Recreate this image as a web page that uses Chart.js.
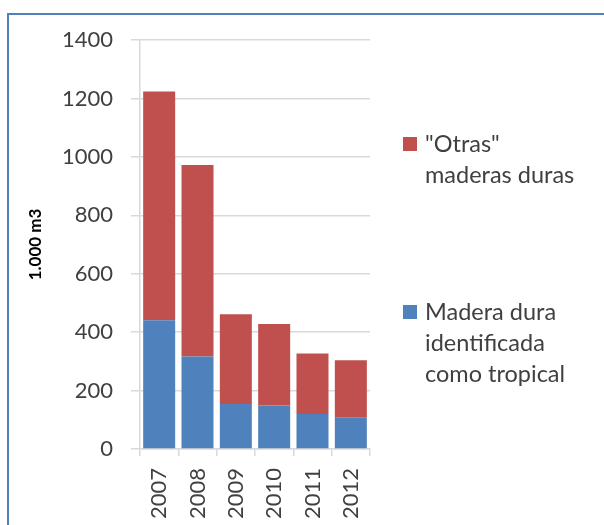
<!DOCTYPE html>
<html>
<head>
<meta charset="utf-8">
<script src="https://cdn.jsdelivr.net/npm/chart.js@4"></script>
<style>
  html, body { margin: 0; padding: 0; background: #ffffff; overflow: hidden; }
  #frame { position: absolute; left: 7px; top: 13px; width: 700px; height: 600px; border: 2px solid #4f81bd; box-sizing: border-box; }
  #c { position: absolute; left: 0; top: 0; }
</style>
</head>
<body>
<div id="frame"></div>
<canvas id="c" width="604" height="525"></canvas>
<script>
const categories = ['2007', '2008', '2009', '2010', '2011', '2012'];
const tropicalValues = [441, 317, 154, 149, 120, 109];
const otherValues = [783, 655, 307, 279, 207, 195];
const tropicalLabel = ['Madera dura', 'identificada', 'como tropical'];
const otherLabel = ['"Otras"', 'maderas duras'];
const yAxisTitle = '1.000 m3';
const yMin = 0, yMax = 1400, yStep = 200;

const FONT = 'Lato, "Open Sans", sans-serif';
const TEXT = '#404040';
const GRID = '#d9d9d9';

const sideLegend = {
  id: 'sideLegend',
  afterDraw(chart) {
    const ctx = chart.ctx;
    const order = [1, 0];
    const tops = [137, 305];
    ctx.save();
    ctx.font = '23.5px ' + FONT;
    ctx.textBaseline = 'middle';
    ctx.textAlign = 'left';
    order.forEach((di, k) => {
      const ds = chart.data.datasets[di];
      const y0 = tops[k];
      ctx.fillStyle = ds.backgroundColor;
      ctx.fillRect(403, y0, 14, 14);
      ctx.fillStyle = TEXT;
      ds.label.forEach((line, i) => {
        ctx.fillText(line, 425, y0 + 7 + i * 31);
      });
    });
    ctx.restore();
  }
};

new Chart(document.getElementById('c'), {
  type: 'bar',
  data: {
    labels: categories,
    datasets: [
      { label: tropicalLabel, data: tropicalValues, backgroundColor: '#4f81bd', barPercentage: 0.835, categoryPercentage: 1 },
      { label: otherLabel, data: otherValues, backgroundColor: '#c0504d', barPercentage: 0.835, categoryPercentage: 1 }
    ]
  },
  options: {
    responsive: false,
    animation: false,
    devicePixelRatio: 1,
    layout: { padding: { left: 0, right: 234, top: 40, bottom: 0 } },
    plugins: { legend: { display: false }, tooltip: { enabled: false } },
    scales: {
      x: {
        stacked: true,
        grid: { display: true, drawOnChartArea: false, tickLength: 7, color: GRID, lineWidth: 1.5 },
        border: { color: GRID, width: 1.5 },
        ticks: { minRotation: 90, maxRotation: 90, padding: 12, color: TEXT, font: { family: FONT, size: 22 } },
        afterFit(s) { s.height = 76; }
      },
      y: {
        stacked: true,
        min: yMin, max: yMax,
        ticks: { stepSize: yStep, padding: 18, color: TEXT, font: { family: FONT, size: 22 }, callback: (v) => String(v) },
        grid: { tickLength: 9, color: GRID, lineWidth: 1.5 },
        border: { color: GRID, width: 1.5 },
        title: { display: true, text: yAxisTitle, color: '#000', font: { family: FONT, size: 17, weight: 'bold' }, padding: { top: 25, bottom: 0 } },
        afterFit(s) { s.width = 140; }
      }
    }
  },
  plugins: [sideLegend]
});
</script>
</body>
</html>
